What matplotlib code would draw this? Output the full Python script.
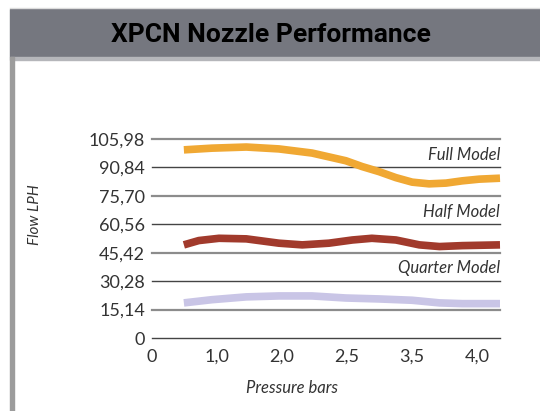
import matplotlib.pyplot as plt
from matplotlib.patches import Rectangle

# x positions are evenly spaced categories
x_labels = ['0', '1,0', '2,0', '2,5', '3,5', '4,0']
y_ticks = [0, 15.14, 30.28, 45.42, 60.56, 75.70, 90.84, 105.98]

# curves (x in category units)
full_x = [0.49, 0.92, 1.45, 1.95, 2.46, 2.98, 3.23, 3.49, 3.75, 4.0, 4.26, 4.52, 4.77, 5.03, 5.35]
full_model = [100.2, 101.1, 101.7, 100.7, 98.5, 94.4, 91.3, 88.6, 85.4, 83.0, 82.1, 82.5, 83.7, 84.6, 85.1]
half_x = [0.49, 0.72, 1.03, 1.45, 1.95, 2.31, 2.72, 3.08, 3.38, 3.75, 4.11, 4.42, 4.77, 5.35]
half_model = [49.6, 51.9, 53.1, 52.8, 50.5, 49.6, 50.5, 52.2, 53.1, 52.2, 49.6, 48.7, 49.2, 49.6]
quarter_x = [0.49, 0.92, 1.45, 1.95, 2.46, 2.98, 3.49, 4.0, 4.42, 4.77, 5.35]
quarter_model = [18.7, 20.4, 21.9, 22.4, 22.4, 21.3, 20.8, 20.1, 18.7, 18.3, 18.3]

series = [
    ('Full Model', full_x, full_model, '#f0a833', 90.84),
    ('Half Model', half_x, half_model, '#a13a2c', 60.56),
    ('Quarter Model', quarter_x, quarter_model, '#c9c5e6', 30.28),
]

W, H = 540, 411
fig = plt.figure(figsize=(W / 100, H / 100), dpi=100)
label_font = ['Lato', 'DejaVu Sans']

# header band and frame
bg = fig.add_axes([0, 0, 1, 1])
bg.set_xlim(0, W)
bg.set_ylim(H, 0)
bg.axis('off')
bg.add_patch(Rectangle((10, 9), W - 10, 48, color='#75777f'))
bg.add_patch(Rectangle((10, 57), W - 10, 3, color='#b5b6ba'))
bg.add_patch(Rectangle((10, 57), 4, H - 57, color='#9c9c9c'))
bg.plot([10, W], [8.5, 8.5], color='#dcdcdc', lw=1)
bg.text(271, 35, 'XPCN Nozzle Performance', ha='center', va='center',
        fontsize=19, fontweight='bold', fontstretch='condensed', color='black',
        family=['Roboto', 'DejaVu Sans'])
bg.text(35, 215, 'Flow LPH', rotation=90, ha='center', va='center',
        fontsize=11, style='italic', color='#333333', family=label_font)
bg.text(292, 388, 'Pressure bars', ha='center', va='center',
        fontsize=12, style='italic', color='#333333', family=label_font)

ax = fig.add_axes([152 / W, (H - 338) / H, 348 / W, 199 / H])
ax.set_xlim(0, 5.35)
ax.set_ylim(0, 105.98)
ax.patch.set_alpha(0)
for s in ax.spines.values():
    s.set_visible(False)

for i, v in enumerate(y_ticks):
    if i % 2 == 0:
        ax.axhline(v, color='#444444', lw=1.0, zorder=1, clip_on=False)
    else:
        ax.axhline(v, color='#8c8c8c', lw=1.6, zorder=1, clip_on=False)

for name, xs, vals, color, label_y in series:
    ax.plot(xs, vals, color=color, lw=5.5, solid_capstyle='butt',
            solid_joinstyle='round', zorder=3, clip_on=False)
    ax.text(5.35, label_y + 2.5, name, ha='right', va='bottom', fontsize=12,
            style='italic', color='#333333', family=label_font)

ax.set_xticks(range(len(x_labels)))
ax.set_xticklabels(x_labels)
ax.set_yticks(y_ticks)
ax.set_yticklabels([f'{v:.2f}'.replace('.', ',') if v else '0' for v in y_ticks])
ax.tick_params(length=0, labelsize=13, colors='#333333')
ax.tick_params(axis='x', pad=8)
ax.tick_params(axis='y', pad=5)
for lab in ax.get_xticklabels() + ax.get_yticklabels():
    lab.set_family(label_font)

fig.savefig('out.png', dpi=100)
